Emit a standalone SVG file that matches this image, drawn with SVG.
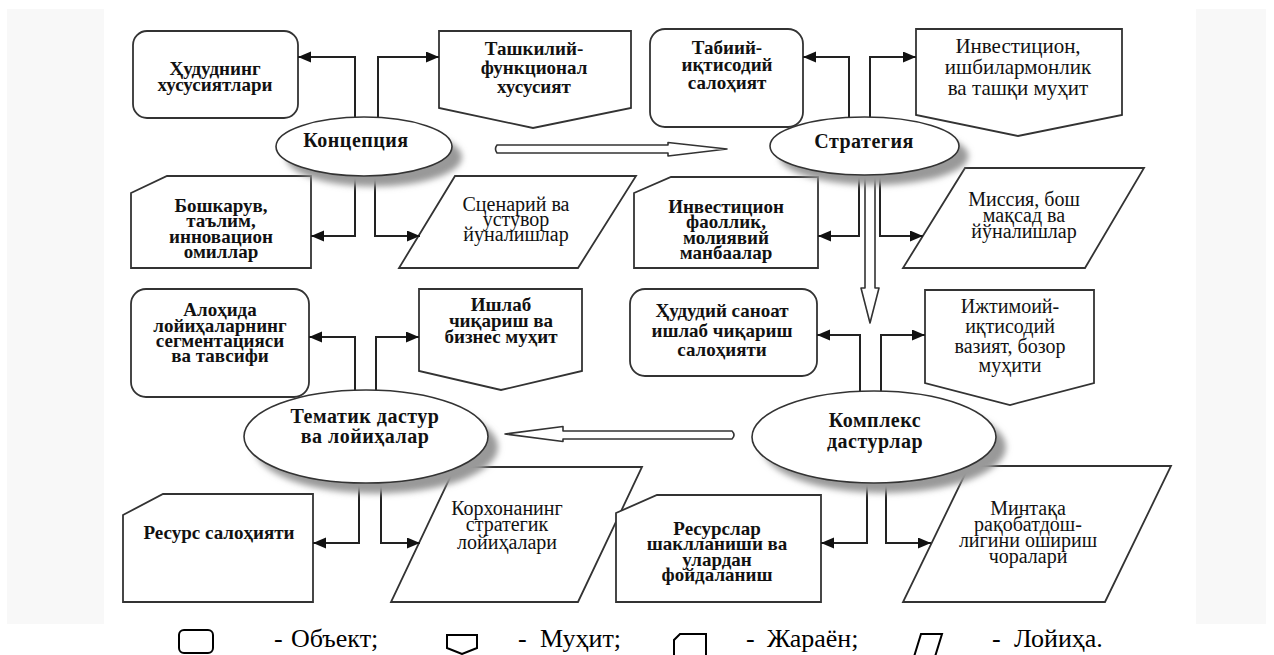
<svg xmlns="http://www.w3.org/2000/svg" width="1274" height="655" viewBox="0 0 1274 655">
<defs>
<style>
.bg{fill:#f8f8f8}
.n{fill:#fff;stroke:#333;stroke-width:1.8;stroke-linejoin:miter}
.el{fill:#fff;stroke:#333;stroke-width:1.6}
.sh{fill:#999;filter:url(#blur)}
.c{fill:none;stroke:#222;stroke-width:2;marker-end:url(#ah)}
.h{fill:#fff;stroke:#333;stroke-width:1.6;stroke-linejoin:round}
.t{font-family:"Liberation Serif","Times New Roman",serif;font-size:20px;fill:#111;text-anchor:middle}
.b{font-weight:bold;font-size:19px}
.e{font-weight:bold;font-size:20px;letter-spacing:0.5px}
.lg{font-family:"Liberation Serif","Times New Roman",serif;font-size:26px;fill:#000}
.li{fill:#fff;stroke:#000;stroke-width:2}
</style>
<filter id="blur" x="-20%" y="-20%" width="140%" height="140%"><feGaussianBlur stdDeviation="3"/></filter>
<marker id="ah" markerUnits="userSpaceOnUse" markerWidth="14" markerHeight="12" refX="13" refY="5.5" orient="auto"><path d="M0,0 L13,5.5 L0,11 z" fill="#111"/></marker>
</defs>
<rect width="1274" height="655" fill="#fff"/>
<rect class="bg" x="7" y="9" width="97" height="615"/>
<rect class="bg" x="1196" y="9" width="70" height="615"/>

<g id="hududning">
<rect class="n" x="133" y="31" width="165" height="87" rx="14"/>
<text class="t b"><tspan x="215" y="75">Ҳудуднинг</tspan><tspan x="215" y="91">хусусиятлари</tspan></text>
</g>
<g id="tashkiliy">
<polygon class="n" points="439,31 631,31 631,108 533,128 439,108"/>
<text class="t b"><tspan x="534" y="55">Ташкилий-</tspan><tspan x="534" y="74">функционал</tspan><tspan x="534" y="93">хусусият</tspan></text>
</g>
<g id="boshqaruv">
<polygon class="n" points="167,176 311,176 311,268 131,268 131,193"/>
<text class="t b"><tspan x="221" y="212">Бошкарув,</tspan><tspan x="221" y="227">таълим,</tspan><tspan x="221" y="243">инновацион</tspan><tspan x="221" y="258">омиллар</tspan></text>
</g>
<g id="ssenariy">
<polygon class="n" points="455,176 636,176 578,268 399,268"/>
<text class="t"><tspan x="516" y="211">Сценарий ва</tspan><tspan x="516" y="226">устувор</tspan><tspan x="516" y="241">йуналишлар</tspan></text>
</g>
<g id="tabiiy">
<rect class="n" x="650" y="29" width="153" height="98" rx="15"/>
<text class="t b"><tspan x="727" y="54">Табиий-</tspan><tspan x="727" y="71">иқтисодий</tspan><tspan x="727" y="89">салоҳият</tspan></text>
</g>
<g id="investitsion-muhit">
<polygon class="n" points="916,29 1122,29 1122,115 1018,136 916,115"/>
<text class="t" style="font-size:21px"><tspan x="1018" y="53">Инвестицион,</tspan><tspan x="1018" y="74">ишбилармонлик</tspan><tspan x="1018" y="95">ва ташқи муҳит</tspan></text>
</g>
<g id="investitsion-faollik">
<polygon class="n" points="671,177 818,177 818,268 634,268 634,193"/>
<text class="t b"><tspan x="726" y="213">Инвестицион</tspan><tspan x="726" y="228">фаоллик,</tspan><tspan x="726" y="244">молиявий</tspan><tspan x="726" y="259">манбаалар</tspan></text>
</g>
<g id="missiya">
<polygon class="n" points="965,168 1144,168 1085,268 903,268"/>
<text class="t"><tspan x="1024" y="206">Миссия, бош</tspan><tspan x="1024" y="222">мақсад ва</tspan><tspan x="1024" y="238">йўналишлар</tspan></text>
</g>
<g id="alohida">
<rect class="n" x="131" y="289" width="178" height="108" rx="15"/>
<text class="t b"><tspan x="220" y="316">Алоҳида</tspan><tspan x="220" y="332">лойиҳаларнинг</tspan><tspan x="220" y="347">сегментацияси</tspan><tspan x="220" y="362">ва тавсифи</tspan></text>
</g>
<g id="ishlab">
<polygon class="n" points="419,289 582,289 582,371 501,390 419,371"/>
<text class="t b"><tspan x="501" y="311">Ишлаб</tspan><tspan x="501" y="327">чиқариш ва</tspan><tspan x="501" y="343">бизнес муҳит</tspan></text>
</g>
<g id="hududiy-sanoat">
<rect class="n" x="630" y="289" width="187" height="87" rx="15"/>
<text class="t b"><tspan x="722" y="317">Ҳудудий саноат</tspan><tspan x="722" y="337">ишлаб чиқариш</tspan><tspan x="722" y="356">салоҳияти</tspan></text>
</g>
<g id="ijtimoiy">
<polygon class="n" points="925,290 1094,290 1094,383 1010,405 925,383"/>
<text class="t"><tspan x="1010" y="313">Ижтимоий-</tspan><tspan x="1010" y="333">иқтисодий</tspan><tspan x="1010" y="353">вазият, бозор</tspan><tspan x="1010" y="372">муҳити</tspan></text>
</g>
<g id="resurs">
<polygon class="n" points="163,494 313,494 313,602 123,602 123,515"/>
<text class="t b" x="219" y="539">Ресурс салоҳияти</text>
</g>
<g id="korxona">
<polygon class="n" points="455,467 642,467 578,602 391,602"/>
<text class="t"><tspan x="507" y="515">Корхонанинг</tspan><tspan x="507" y="531">стратегик</tspan><tspan x="507" y="549">лойиҳалари</tspan></text>
</g>
<g id="resurslar">
<polygon class="n" points="657,495 821,495 821,602 616,602 616,513"/>
<text class="t b"><tspan x="717" y="535">Ресурслар</tspan><tspan x="717" y="550">шаклланиши ва</tspan><tspan x="717" y="566">улардан</tspan><tspan x="717" y="581">фойдаланиш</tspan></text>
</g>
<g id="mintaqa">
<polygon class="n" points="969,466 1171,466 1105,602 903,602"/>
<text class="t"><tspan x="1028" y="515">Минтақа</tspan><tspan x="1028" y="531">рақобатдош-</tspan><tspan x="1028" y="547">лигини ошириш</tspan><tspan x="1028" y="563">чоралари</tspan></text>
</g>

<g id="connectors">
<path class="c" d="M355,147 V57 H298"/>
<path class="c" d="M378,147 V57 H439"/>
<path class="c" d="M355,147 V236 H311"/>
<path class="c" d="M375,147 V236 H420"/>
<path class="c" d="M849,146 V57 H803"/>
<path class="c" d="M870,146 V57 H916"/>
<path class="c" d="M859,146 V236 H818"/>
<path class="c" d="M880,146 V236 H923"/>
<path class="c" d="M355,436 V337 H309"/>
<path class="c" d="M376,436 V337 H419"/>
<path class="c" d="M359,436 V543 H313"/>
<path class="c" d="M381,436 V543 H420"/>
<path class="c" d="M860,437 V335 H817"/>
<path class="c" d="M881,437 V335 H925"/>
<path class="c" d="M867,437 V543 H821"/>
<path class="c" d="M886,437 V543 H931"/>
<path class="h" d="M497,145 H668 V142.5 L727,149 L668,156 V153 H497 Q494,149 497,145 Z"/>
<path class="h" d="M865,170 V288 H861 L870,323 L879,288 H875 V170 Z"/>
<path class="h" d="M732,431 H563 V426.5 L505,434 L563,441.5 V439 H732 Q736,435 732,431 Z"/>
</g>

<g id="konsepsiya">
<ellipse class="sh" cx="374" cy="157" rx="88" ry="29.5"/>
<ellipse class="el" cx="364" cy="146.5" rx="88" ry="29.5"/>
<text class="t e" x="356" y="147">Концепция</text>
</g>
<g id="strategiya">
<ellipse class="sh" cx="874" cy="156" rx="94.5" ry="29"/>
<ellipse class="el" cx="864.5" cy="146" rx="94.5" ry="29"/>
<text class="t e" x="864" y="148">Стратегия</text>
</g>
<g id="tematik">
<ellipse class="sh" cx="376" cy="447" rx="122" ry="46.5"/>
<ellipse class="el" cx="366" cy="436.5" rx="122" ry="46.5"/>
<text class="t e"><tspan x="365" y="423">Тематик дастур</tspan><tspan x="365" y="443">ва лойиҳалар</tspan></text>
</g>
<g id="kompleks">
<ellipse class="sh" cx="884" cy="447" rx="122" ry="46"/>
<ellipse class="el" cx="874" cy="437" rx="122" ry="46"/>
<text class="t e"><tspan x="875" y="427">Комплекс</tspan><tspan x="875" y="448">дастурлар</tspan></text>
</g>

<g id="legend">
<rect class="li" x="179" y="630" width="34" height="23" rx="5"/>
<text class="lg" x="274" y="647">-</text><text class="lg" x="291" y="647">Объект;</text>
<polygon class="li" points="447,635 477,635 477,648 462,654 447,648"/>
<text class="lg" x="518" y="647">-</text><text class="lg" x="540" y="647">Муҳит;</text>
<path class="li" d="M674,660 V640 L680,634 H706 V660"/>
<text class="lg" x="746" y="647">-</text><text class="lg" x="767" y="647">Жараён;</text>
<path class="li" d="M913,660 L921,634 H942 L934,660" fill="none"/>
<text class="lg" x="992" y="647">-</text><text class="lg" x="1014" y="647">Лойиҳа.</text>
</g>
</svg>
